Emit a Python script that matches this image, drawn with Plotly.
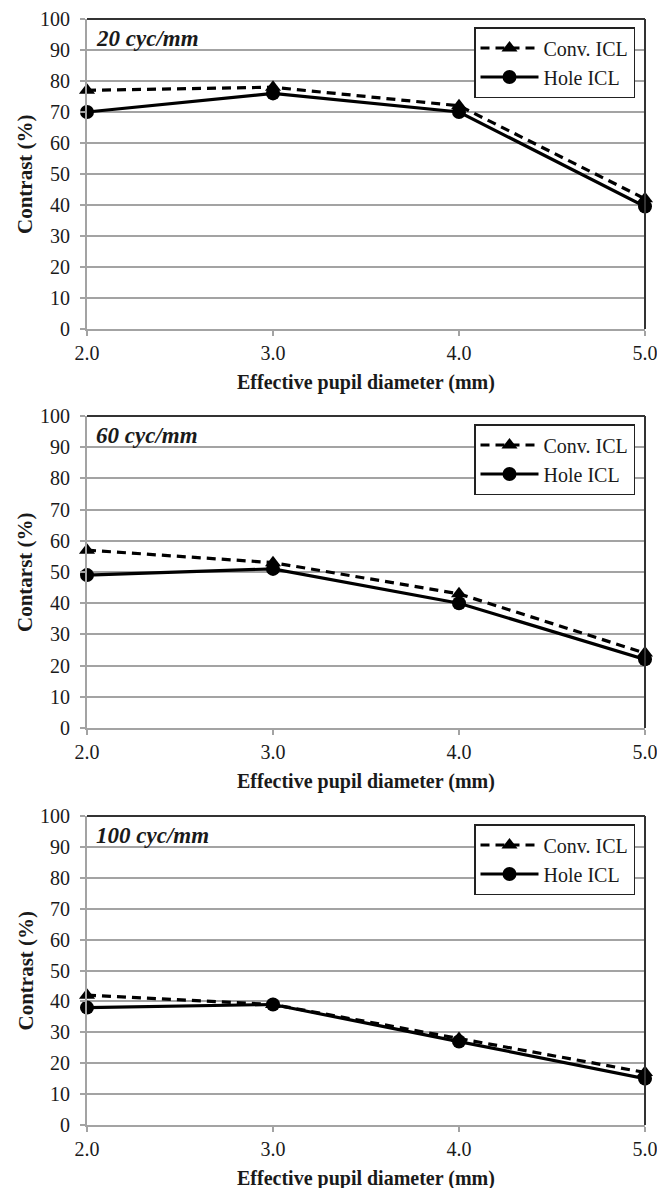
import plotly.graph_objects as go

pupil = [2.0, 3.0, 4.0, 5.0]
x_ticks = ["2.0", "3.0", "4.0", "5.0"]
y_ticks = [0, 10, 20, 30, 40, 50, 60, 70, 80, 90, 100]

panels = ["20 cyc/mm", "60 cyc/mm", "100 cyc/mm"]
conv_20 = [77, 78, 72, 42]
hole_20 = [70, 76, 70, 39.5]
conv_60 = [57, 53, 43, 24]
hole_60 = [49, 51, 40, 22]
conv_100 = [42, 39, 28, 17]
hole_100 = [38, 39, 27, 15]
y_titles = ["Contrast (%)", "Contarst (%)", "Contrast (%)"]
x_title = "Effective pupil diameter (mm)"

# page is drawn with the browser's default 8px body margin
OFF = 8
W, H = 665 - OFF, 1188 - OFF
# page-pixel layout of panels (top, bottom)
rows_px = [(19, 329), (416, 728), (816, 1125)]
x_px = (87, 645)


def px_x(p):
    return (p - OFF) / W


def px_y(p):
    return 1 - (p - OFF) / H


FONT = "Liberation Serif"
GRID = "#a3a3a3"
TXT = "#1a1a1a"

fig = go.Figure()
series = [(conv_20, hole_20), (conv_60, hole_60), (conv_100, hole_100)]
legend_names = ["legend", "legend2", "legend3"]

layout = dict(
    template="none",
    width=W, height=H, autosize=False,
    margin=dict(l=0, r=0, t=0, b=0, pad=0),
    paper_bgcolor="white", plot_bgcolor="white",
    font=dict(family=FONT, size=19, color=TXT),
)
annotations = []
shapes = []

for i, ((conv, hole), (top, bot)) in enumerate(zip(series, rows_px)):
    n = "" if i == 0 else str(i + 1)
    xa, ya = "x" + n, "y" + n
    leg = legend_names[i]
    fig.add_trace(go.Scatter(
        x=pupil, y=conv, name="Conv. ICL", xaxis=xa, yaxis=ya,
        mode="lines+markers", cliponaxis=False, legend=leg,
        line=dict(color="black", width=3.2, dash="9px,6px"),
        marker=dict(symbol="triangle-up", size=14, color="black"),
    ))
    fig.add_trace(go.Scatter(
        x=pupil, y=hole, name="Hole ICL", xaxis=xa, yaxis=ya,
        mode="lines+markers", cliponaxis=False, legend=leg,
        line=dict(color="black", width=3.2),
        marker=dict(symbol="circle", size=14, color="black"),
    ))
    layout["xaxis" + n] = dict(
        domain=[px_x(x_px[0]), px_x(x_px[1])], anchor=ya, automargin=False,
        range=[2.0, 5.0], tickvals=pupil, ticktext=x_ticks,
        showgrid=False, zeroline=False,
        showline=True, linecolor=GRID, linewidth=2,
        ticks="outside", ticklen=5, tickcolor=GRID, tickwidth=1.5,
        tickfont=dict(family=FONT, size=20, color=TXT),
        ticklabelstandoff=0,
    )
    layout["yaxis" + n] = dict(
        domain=[px_y(bot), px_y(top)], anchor=xa, automargin=False,
        range=[0, 100], tickvals=y_ticks,
        showgrid=True, gridcolor=GRID, gridwidth=1.5, zeroline=False,
        showline=True, linecolor=GRID, linewidth=2,
        ticks="outside", ticklen=5, tickcolor=GRID, tickwidth=1.5,
        tickfont=dict(family=FONT, size=20, color=TXT),
        ticklabelstandoff=6,
    )
    # top and right border of the plot area
    shapes.append(dict(type="line", xref=xa + " domain", yref=ya + " domain",
                       x0=0, x1=1, y0=1, y1=1, line=dict(color="#333333", width=2)))
    shapes.append(dict(type="line", xref=xa + " domain", yref=ya + " domain",
                       x0=1, x1=1, y0=0, y1=1, line=dict(color="#333333", width=2)))
    # panel label
    annotations.append(dict(
        xref="paper", yref="paper", x=px_x(94), y=px_y(top + 19),
        xanchor="left", yanchor="middle", showarrow=False,
        text="<b><i>" + panels[i] + "</i></b>",
        font=dict(family=FONT, size=23, color=TXT),
    ))
    # y title
    annotations.append(dict(
        xref="paper", yref="paper", x=px_x(25), y=px_y((top + bot) / 2),
        xanchor="center", yanchor="middle", showarrow=False, textangle=-90,
        text="<b>" + y_titles[i] + "</b>",
        font=dict(family=FONT, size=21, color=TXT),
    ))
    # x title
    annotations.append(dict(
        xref="paper", yref="paper", x=px_x((x_px[0] + x_px[1]) / 2), y=px_y(bot + 53),
        xanchor="center", yanchor="middle", showarrow=False,
        text="<b>" + x_title + "</b>",
        font=dict(family=FONT, size=20, color=TXT),
    ))
    layout[leg] = dict(
        x=px_x(474), y=px_y(top + 8), xanchor="left", yanchor="top",
        xref="paper", yref="paper",
        bgcolor="white", bordercolor="#222222", borderwidth=1.5,
        font=dict(family=FONT, size=20, color=TXT),
        tracegroupgap=0, itemwidth=58,
    )

layout["annotations"] = annotations
layout["shapes"] = shapes
fig.update_layout(**layout)

fig.write_html("out.html")
